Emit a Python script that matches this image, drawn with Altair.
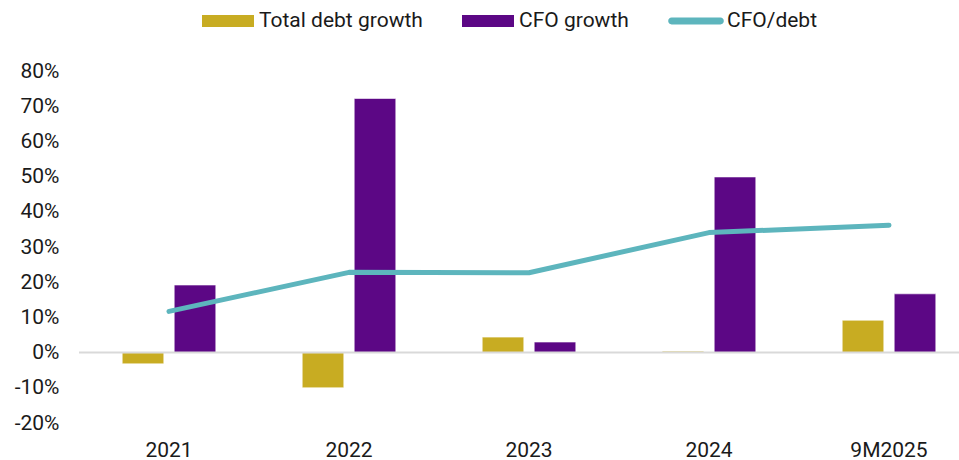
import altair as alt
import pandas as pd

# Period labels and series values (percent)
periods = ["2021", "2022", "2023", "2024", "9M2025"]
total_debt_growth = [-3.2, -10.0, 4.4, 0.4, 9.2]
cfo_growth = [19.2, 72.2, 3.0, 49.9, 16.7]
cfo_to_debt = [11.7, 22.8, 22.7, 34.1, 36.2]

series_names = ["Total debt growth", "CFO growth", "CFO/debt"]
series_colors = ["#C8AC22", "#5C0785", "#5DB5BD"]

bars = pd.DataFrame(
    [{"period": p, "series": series_names[0], "value": v / 100} for p, v in zip(periods, total_debt_growth)]
    + [{"period": p, "series": series_names[1], "value": v / 100} for p, v in zip(periods, cfo_growth)]
)
line = pd.DataFrame(
    [{"period": p, "series": series_names[2], "value": v / 100} for p, v in zip(periods, cfo_to_debt)]
)

FONT = "Roboto"
TEXT = "#1a1a1a"
FS = 21

x_scale = alt.Scale(range=[0, 900], paddingInner=0.48, paddingOuter=0.24)
y_scale = alt.Scale(domain=[-0.2, 0.8], nice=False)

x_axis = alt.Axis(labelAngle=0, domain=False, ticks=False, grid=False, labelPadding=16,
                  labelFontSize=FS, labelFont=FONT, labelColor=TEXT)
y_axis = alt.Axis(values=[-0.2, -0.1, 0, 0.1, 0.2, 0.3, 0.4, 0.5, 0.6, 0.7, 0.8],
                  labelExpr="toString(round(datum.value * 100)) + '%'",
                  labelOverlap=False,
                  domain=False, ticks=False, grid=False, labelPadding=20,
                  labelFontSize=FS, labelFont=FONT, labelColor=TEXT)

x_enc = alt.X("period:N", sort=periods, title=None, scale=x_scale, axis=x_axis)
y_enc = alt.Y("value:Q", title=None, scale=y_scale, axis=y_axis)

# Legend swatches: wide rectangles for the bars, a rounded thick stroke for the line
rect_shape = "M-1,-0.23L1,-0.23L1,0.23L-1,0.23Z"
line_shape = "M-0.94,-0.13L0.94,-0.13A0.13,0.13,0,0,1,0.94,0.13L-0.94,0.13A0.13,0.13,0,0,1,-0.94,-0.13Z"

color_scale = alt.Scale(domain=series_names, range=series_colors)
legend = alt.Legend(
    title=None,
    orient="none",
    direction="horizontal",
    legendX=123,
    legendY=-76,
    symbolSize=2704,
    symbolStrokeWidth=0,
    symbolOpacity=1,
    symbolType=alt.ExprRef(expr=f"datum.label == 'CFO/debt' ? '{line_shape}' : '{rect_shape}'"),
    labelFontSize=FS,
    labelFont=FONT,
    labelColor=TEXT,
    labelOffset=5,
    labelLimit=400,
    columnPadding=39,
)
color_enc = alt.Color("series:N", scale=color_scale, legend=legend)

bar_layer = alt.Chart(bars).mark_bar(stroke="#ffffff", strokeWidth=0.6).encode(
    x=x_enc,
    xOffset=alt.XOffset("series:N", sort=series_names[:2],
                        scale=alt.Scale(domain=series_names[:2], paddingInner=0.2, paddingOuter=0)),
    y=y_enc,
    color=color_enc,
)

zero_rule = alt.Chart(pd.DataFrame({"value": [0]})).mark_rule(color="#D9D9D9", strokeWidth=2).encode(
    y=y_enc
)

line_layer = alt.Chart(line).mark_line(strokeWidth=5, strokeCap="round", strokeJoin="round").encode(
    x=x_enc,
    y=y_enc,
    color=color_enc,
)

chart = (
    alt.layer(bar_layer, zero_rule, line_layer)
    .properties(
        width=880,
        height=352,
        background="white",
        autosize=alt.AutoSizeParams(type="none"),
        padding={"left": 79, "top": 71, "right": 0, "bottom": 37},
    )
    .configure_axis(grid=False)
    .configure_view(strokeWidth=0)
)

chart.save("out.html", embed_options={"renderer": "svg", "actions": False})
